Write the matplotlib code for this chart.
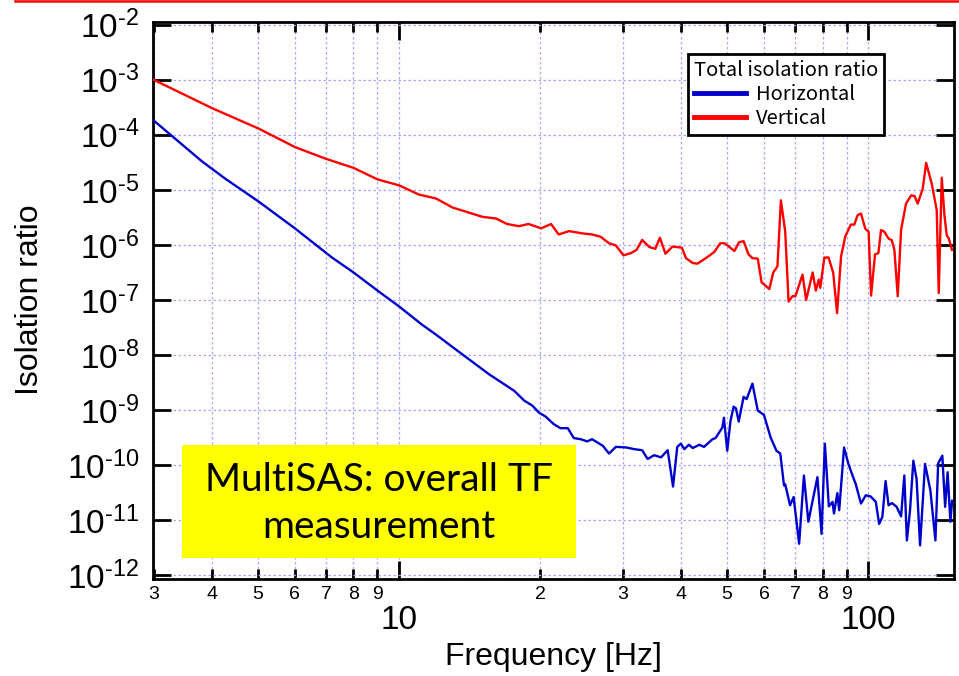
import matplotlib
matplotlib.use("Agg")
import matplotlib.pyplot as plt
from matplotlib.ticker import FixedLocator, FixedFormatter
from matplotlib.patches import Rectangle
from matplotlib.lines import Line2D

plt.rcParams['font.family'] = ['Liberation Sans', 'DejaVu Sans']
plt.rcParams['mathtext.fontset'] = 'custom'
plt.rcParams['mathtext.rm'] = 'Liberation Sans'
plt.rcParams['mathtext.it'] = 'Liberation Sans:italic'
plt.rcParams['mathtext.bf'] = 'Liberation Sans:bold'

# ---------------- data ----------------
vert_freq = [3.0, 4.0, 5.03, 6.0, 6.98, 8.0, 9.0, 10.0, 11.03, 12.0, 13.0, 15.06, 16.1, 17.0,
             18.0, 18.9, 20.1, 21.1, 21.9, 23.05, 24.6, 25.8, 26.9, 28.05, 29.0, 30.1, 31.2,
             32.1, 33.0, 34.2, 35.2, 36.0, 37.0, 38.3, 40.1, 40.9, 42.3, 43.3, 45.1, 47.0,
             48.4, 49.5, 51.9, 53.1, 54.3, 55.6, 56.7, 58.2, 59.3, 61.6, 62.8, 64.1, 65.2,
             66.6, 67.7, 69.0, 70.0, 72.5, 73.8, 76.2, 77.4, 78.5, 79.1, 80.7, 82.4, 84.3,
             85.9, 87.6, 89.4, 91.9, 93.5, 95.0, 96.6, 98.7, 100.3, 101.5, 103.5, 105.2,
             106.6, 108.3, 110.7, 112.3, 113.8, 115.7, 117.6, 120.5, 123.6, 125.6, 127.6,
             130.8, 133.0, 136.7, 140.1, 141.5, 143.6, 145.5, 147.2, 148.6, 151.0]
vert_ratio = [1.0e-3, 3.04e-4, 1.29e-4, 6.0e-5, 3.68e-5, 2.51e-5, 1.55e-5, 1.21e-5, 8.22e-6,
              6.97e-6, 4.79e-6, 3.24e-6, 3.02e-6, 2.40e-6, 2.19e-6, 2.40e-6, 2.0e-6, 2.4e-6,
              1.55e-6, 1.78e-6, 1.62e-6, 1.55e-6, 1.41e-6, 1.07e-6, 9.77e-7, 6.46e-7, 7.08e-7,
              8.13e-7, 1.23e-6, 9.12e-7, 8.51e-7, 1.35e-6, 6.92e-7, 9.33e-7, 8.91e-7, 5.75e-7,
              4.68e-7, 4.57e-7, 5.75e-7, 7.41e-7, 1.07e-6, 1.07e-6, 7.76e-7, 1.12e-6, 1.17e-6,
              6.76e-7, 5.75e-7, 5.62e-7, 2.09e-7, 1.58e-7, 3.16e-7, 4.07e-7, 6.46e-6, 1.74e-6,
              9.33e-8, 1.17e-7, 1.17e-7, 2.88e-7, 1.0e-7, 3.16e-7, 1.48e-7, 2.34e-7, 1.66e-7,
              5.89e-7, 5.89e-7, 3.09e-7, 5.75e-8, 6.17e-7, 1.41e-6, 2.34e-6, 2.34e-6, 3.47e-6,
              3.72e-6, 1.95e-6, 1.74e-6, 1.20e-7, 6.76e-7, 7.08e-7, 1.86e-6, 1.74e-6, 1.29e-6,
              1.23e-6, 8.13e-7, 1.17e-7, 1.86e-6, 5.62e-6, 7.94e-6, 7.76e-6, 5.62e-6, 1.05e-5,
              3.09e-5, 1.30e-5, 4.27e-6, 1.33e-7, 1.66e-5, 3.47e-6, 1.48e-6, 1.32e-6, 8.13e-7]

horiz_freq = [3.0, 3.8, 4.27, 5.03, 6.0, 7.2, 8.0, 9.0, 10.0, 11.2, 12.0, 13.0, 15.56, 17.6,
              18.5, 19.25, 19.9, 20.55, 21.4, 22.1, 22.9, 23.6, 24.4, 25.2, 25.8, 27.2, 28.05,
              29.0, 30.5, 31.7, 33.0, 33.9, 35.0, 36.2, 37.4, 38.4, 39.2, 39.9, 40.6, 41.5,
              42.3, 43.7, 44.7, 46.6, 47.3, 48.9, 49.3, 50.1, 50.9, 51.7, 52.3, 53.0, 54.3,
              55.1, 56.7, 58.2, 60.0, 62.0, 63.8, 65.0, 66.2, 66.6, 68.2, 69.4, 71.3, 73.0,
              74.6, 78.0, 79.6, 80.9, 82.5, 84.0, 84.6, 86.0, 86.8, 88.9, 90.8, 93.5, 94.1,
              96.6, 98.9, 101.3, 103.9, 105.6, 107.3, 109.0, 110.6, 112.5, 115.1, 117.6,
              119.5, 121.0, 122.9, 124.9, 126.9, 129.1, 132.3, 135.8, 139.2, 141.1, 144.0,
              146.0, 147.8, 149.8, 151.1]
horiz_ratio = [1.82e-4, 3.31e-5, 1.58e-5, 6.07e-6, 2.0e-6, 5.89e-7, 3.16e-7, 1.48e-7, 7.66e-8,
               3.55e-8, 2.34e-8, 1.40e-8, 4.47e-9, 2.24e-9, 1.48e-9, 1.20e-9, 8.91e-10,
               7.59e-10, 5.50e-10, 4.68e-10, 4.68e-10, 3.09e-10, 2.95e-10, 2.69e-10, 2.95e-10,
               2.24e-10, 1.62e-10, 2.14e-10, 2.09e-10, 1.95e-10, 1.86e-10, 1.29e-10, 1.51e-10,
               1.38e-10, 1.86e-10, 4.07e-11, 2.14e-10, 2.45e-10, 1.95e-10, 2.34e-10, 2.04e-10,
               2.34e-10, 2.14e-10, 2.95e-10, 3.09e-10, 4.79e-10, 7.24e-10, 1.82e-10, 6.31e-10,
               1.15e-9, 1.07e-9, 6.17e-10, 1.74e-9, 1.58e-9, 3.02e-9, 9.77e-10, 8.13e-10,
               3.16e-10, 1.82e-10, 1.62e-10, 4.27e-11, 4.47e-11, 1.86e-11, 2.63e-11, 3.72e-12,
               6.46e-11, 9.33e-12, 6.03e-11, 5.62e-12, 2.45e-10, 1.78e-11, 2.14e-11, 1.32e-11,
               3.09e-11, 1.51e-11, 2.09e-10, 1.05e-10, 5.25e-11, 4.57e-11, 2.0e-11, 2.82e-11,
               2.69e-11, 2.14e-11, 8.51e-12, 1.15e-11, 5.13e-11, 1.86e-11, 2.04e-11, 1.74e-11,
               1.17e-11, 6.46e-11, 4.27e-12, 1.51e-11, 1.20e-10, 5.62e-11, 3.47e-12, 1.05e-10,
               3.47e-11, 4.27e-12, 1.07e-10, 1.48e-10, 1.74e-11, 7.41e-11, 9.33e-12, 2.24e-11]

x_major = [10, 100]
x_major_labels = ["10", "100"]
x_minor = [3, 4, 5, 6, 7, 8, 9, 20, 30, 40, 50, 60, 70, 80, 90]
x_minor_labels = ["3", "4", "5", "6", "7", "8", "9", "2", "3", "4", "5", "6", "7", "8", "9"]
y_exponents = [-12, -11, -10, -9, -8, -7, -6, -5, -4, -3, -2]
y_major = [10.0 ** e for e in y_exponents]
y_labels = [r"$\mathregular{10^{\text{-%d}}}$" % (-e) for e in y_exponents]

legend_title = "Total isolation ratio"
series_names = ["Horizontal", "Vertical"]
annotation = ["MultiSAS: overall TF", "measurement"]

# ---------------- figure ----------------
W, H = 959, 676
fig = plt.figure(figsize=(W / 100, H / 100), dpi=100)
ax = fig.add_axes([153 / W, 1 - 579 / H, (954 - 153) / W, (579 - 22) / H])

ax.set_xscale('log')
ax.set_yscale('log')

grid_color = '#a6a6ff'
ax.plot(horiz_freq, horiz_ratio, color='#0000cc', lw=1.7, label=series_names[0], zorder=3)
ax.plot(vert_freq, vert_ratio, color='#ff0000', lw=1.7, label=series_names[1], zorder=3)

ax.set_xlim(2.99, 152.5)
ax.set_ylim(10 ** -12.07, 10 ** -1.95)

ax.xaxis.set_major_locator(FixedLocator(x_major))
ax.xaxis.set_major_formatter(FixedFormatter(x_major_labels))
ax.xaxis.set_minor_locator(FixedLocator(x_minor))
ax.xaxis.set_minor_formatter(FixedFormatter(x_minor_labels))
ax.yaxis.set_major_locator(FixedLocator(y_major))
ax.yaxis.set_major_formatter(FixedFormatter(y_labels))
ax.yaxis.set_minor_locator(FixedLocator([]))

ax.tick_params(which='both', direction='in', top=True, right=True, width=2, color='black')
ax.tick_params(which='major', length=13)
ax.tick_params(which='minor', length=7)
ax.tick_params(axis='x', which='major', pad=19, labelsize=24)
ax.tick_params(axis='x', which='minor', pad=5, labelsize=14)
ax.tick_params(axis='y', which='major', pad=10, labelsize=24)

for s in ax.spines.values():
    s.set_linewidth(2)
    s.set_color('black')

ax.grid(True, which='major', axis='both', color=grid_color, linestyle=(0, (2, 2)), lw=0.9)
ax.grid(True, which='minor', axis='x', color=grid_color, linestyle=(0, (2, 2)), lw=0.9)
ax.set_axisbelow(True)

fig.text(553 / W, 1 - 657 / H, "Frequency [Hz]", ha='center', va='center', fontsize=23)
fig.text(30 / W, 1 - 300 / H, "Isolation ratio", ha='center', va='center', rotation=90, fontsize=23)

# legend
handles = [Line2D([], [], color='#0000cc', lw=3.5), Line2D([], [], color='#ff0000', lw=3.5)]
leg_font = {'family': ['Noto Sans CJK JP', 'DejaVu Sans'], 'size': 14.5}
leg = ax.legend(handles, series_names, title=legend_title, loc='upper left',
                bbox_to_anchor=(688 / W, 1 - 54 / H), bbox_transform=fig.transFigure,
                borderaxespad=0, fancybox=False, framealpha=1, edgecolor='black',
                prop=leg_font, title_fontproperties=leg_font,
                handlelength=2.6, handletextpad=0.5, labelspacing=0.15, borderpad=0.3,
                alignment='left')
leg.get_frame().set_linewidth(2)
leg._legend_box.sep = 2
leg.set_zorder(5)

# yellow annotation box
fig.add_artist(Rectangle((182 / W, 1 - 558 / H), (576 - 182) / W, (558 - 445) / H,
                         transform=fig.transFigure, facecolor='#ffff00', edgecolor='none', zorder=4))
fig.text(379 / W, 1 - 480 / H, annotation[0], ha='center', va='center',
         fontsize=28, family=['Lato', 'DejaVu Sans'], zorder=6)
fig.text(379 / W, 1 - 527 / H, annotation[1], ha='center', va='center',
         fontsize=28, family=['Lato', 'DejaVu Sans'], zorder=6)

# slide decoration line at the very top
fig.add_artist(Line2D([15 / W, 1.0], [1 - 1 / H, 1 - 1 / H], color='#ff0000', lw=1.8,
                      transform=fig.transFigure))

fig.savefig("out.png", dpi=100)
